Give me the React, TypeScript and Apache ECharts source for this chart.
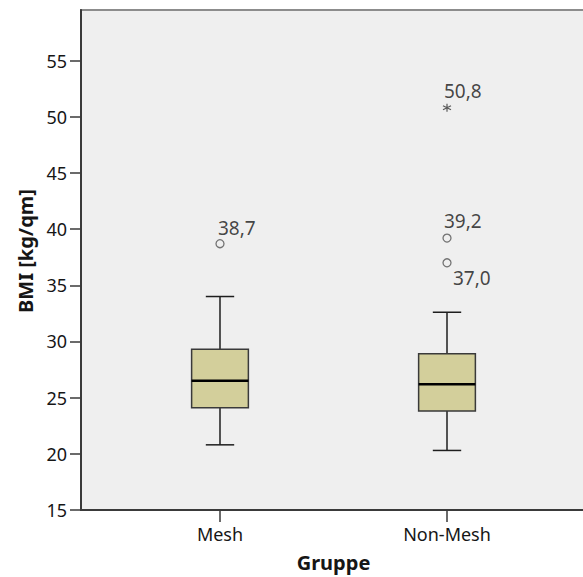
import React, { useEffect, useRef } from 'react';
import * as echarts from 'echarts';

const categories = ['Mesh', 'Non-Mesh'];
const whiskerLow = [20.8, 20.3];
const quartile1 = [24.1, 23.8];
const medians = [26.5, 26.2];
const quartile3 = [29.3, 28.9];
const whiskerHigh = [34.0, 32.6];
const outlierCategory = [0, 1, 1];
const outlierValues = [38.7, 39.2, 37.0];
const extremeCategory = [1];
const extremeValues = [50.8];
const yTicks = [15, 20, 25, 30, 35, 40, 45, 50, 55];

// label placement (layout, not data)
const outlierLabelOffsets = [[-2, -16], [-3, -17], [6, 15]];
const extremeLabelOffsets = [[-3, -17]];

export default function App() {
  const ref = useRef<HTMLDivElement>(null);
  useEffect(() => {
    const chart = echarts.init(ref.current!, null, { renderer: 'svg' });
    const font = "'Noto Sans', 'DejaVu Sans', sans-serif";
    const textColor = '#161616';
    const fmt = (v: number) => v.toFixed(1).replace('.', ',');
    const boxData = categories.map((_, i) => [i, whiskerLow[i], quartile1[i], medians[i], quartile3[i], whiskerHigh[i]]);
    const labelBase = {
      show: true,
      position: 'inside',
      align: 'left',
      verticalAlign: 'middle',
      fontSize: 19,
      fontFamily: font,
      color: textColor,
      formatter: (p: any) => fmt(p.value[1]),
    };
    chart.setOption({
      animation: false,
      backgroundColor: '#ffffff',
      grid: {
        left: 81,
        top: 10,
        right: 14,
        bottom: 67,
        outerBoundsMode: 'none',
        containLabel: false,
        show: true,
        backgroundColor: '#efefef',
        borderColor: '#8c8c8c',
        borderWidth: 2,
      },
      xAxis: {
        type: 'value',
        min: -0.6123,
        max: 1.6123,
        splitLine: { show: false },
        axisLine: { show: true, onZero: false, lineStyle: { color: '#3a3a3a', width: 2 } },
        axisTick: {
          show: true,
          customValues: [0, 1],
          length: 12,
          inside: false,
          lineStyle: { color: '#3a3a3a', width: 1.5 },
        },
        axisLabel: {
          customValues: [0, 1],
          formatter: (v: number) => categories[Math.round(v)] ?? '',
          margin: 15,
          fontSize: 18,
          fontFamily: font,
          color: textColor,
        },
        name: 'Gruppe',
        nameLocation: 'middle',
        nameGap: 42,
        nameTextStyle: { fontSize: 20, fontWeight: 'bold', fontFamily: font, color: textColor },
      },
      yAxis: {
        type: 'value',
        min: 15,
        max: 59.5,
        splitLine: { show: false },
        axisLine: { show: true, onZero: false, lineStyle: { color: '#3a3a3a', width: 2 } },
        axisTick: {
          show: true,
          customValues: yTicks,
          length: 11,
          inside: false,
          lineStyle: { color: '#3a3a3a', width: 1.5 },
        },
        axisLabel: {
          customValues: yTicks,
          margin: 14,
          fontSize: 18,
          fontFamily: font,
          color: textColor,
        },
        name: 'BMI [kg/qm]',
        nameLocation: 'middle',
        nameGap: 45,
        nameTextStyle: {
          fontSize: 20,
          fontWeight: 'bold',
          fontFamily: font,
          color: textColor,
          padding: [0, 0, 0, 18],
        },
      },
      series: [
        {
          type: 'custom',
          data: boxData,
          encode: { x: 0, y: [1, 2, 3, 4, 5] },
          renderItem: (_params: any, api: any) => {
            const x = api.value(0);
            const lo = api.coord([x, api.value(1)]);
            const b1 = api.coord([x, api.value(2)]);
            const md = api.coord([x, api.value(3)]);
            const b3 = api.coord([x, api.value(4)]);
            const hi = api.coord([x, api.value(5)]);
            const bw = api.size([0.25, 0])[0];
            const cw = api.size([0.125, 0])[0];
            const cx = lo[0];
            const ls = { stroke: '#1e1e1e', lineWidth: 1.5 };
            return {
              type: 'group',
              children: [
                { type: 'line', shape: { x1: cx, y1: b3[1], x2: cx, y2: hi[1] }, style: ls },
                { type: 'line', shape: { x1: cx, y1: b1[1], x2: cx, y2: lo[1] }, style: ls },
                { type: 'line', shape: { x1: cx - cw / 2, y1: hi[1], x2: cx + cw / 2, y2: hi[1] }, style: ls },
                { type: 'line', shape: { x1: cx - cw / 2, y1: lo[1], x2: cx + cw / 2, y2: lo[1] }, style: ls },
                {
                  type: 'rect',
                  shape: { x: cx - bw / 2, y: b3[1], width: bw, height: b1[1] - b3[1] },
                  style: { fill: '#d3cf9b', stroke: '#3a3a3a', lineWidth: 1.5 },
                },
                {
                  type: 'line',
                  shape: { x1: cx - bw / 2, y1: md[1], x2: cx + bw / 2, y2: md[1] },
                  style: { stroke: '#000000', lineWidth: 2.5 },
                },
              ],
            };
          },
        },
        {
          type: 'scatter',
          symbol: 'circle',
          symbolSize: 8,
          itemStyle: { color: 'rgba(0,0,0,0)', borderColor: '#555555', borderWidth: 1.3 },
          label: labelBase,
          data: outlierValues.map((v, i) => ({
            value: [outlierCategory[i], v],
            label: { offset: outlierLabelOffsets[i] },
          })),
        },
        {
          type: 'scatter',
          symbol: 'path://M5,0V10M0.67,2.5L9.33,7.5M0.67,7.5L9.33,2.5',
          symbolSize: 8,
          itemStyle: { color: 'rgba(0,0,0,0)', borderColor: '#333333', borderWidth: 1.2 },
          label: labelBase,
          data: extremeValues.map((v, i) => ({
            value: [extremeCategory[i], v],
            label: { offset: extremeLabelOffsets[i] },
          })),
        },
      ],
    });
    return () => chart.dispose();
  }, []);
  return (
    <div style={{ position: 'fixed', left: 0, top: 0, width: 583, height: 577, overflow: 'hidden', background: '#fff' }}>
      <div ref={ref} style={{ width: 600, height: 577 }} />
    </div>
  );
}
